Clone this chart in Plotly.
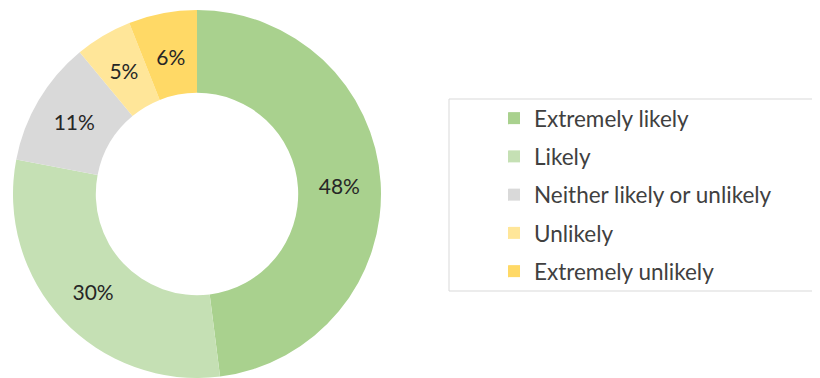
import plotly.graph_objects as go

categories = ["Extremely likely", "Likely", "Neither likely or unlikely", "Unlikely", "Extremely unlikely"]
values = [48, 30, 11, 5, 6]
colors = ["#A9D18E", "#C5E0B4", "#D9D9D9", "#FFE699", "#FFD966"]

# page body has an 8px margin; figure fills the rest of the 820x378 window
W, H = 812, 370
cx, cy, r = 189, 186, 184   # donut centre/radius in figure px
r2 = 166                    # helper ring used only to place labels of the two small slices


def dom(rad):
    return dict(x=[(cx - rad) / W, (cx + rad) / W],
                y=[max(0, 1 - (cy + rad) / H), min(1, 1 - (cy - rad) / H)])


small = [v < 10 for v in values]
label_font = dict(family="Lato", size=21, color="#262626")

fig = go.Figure()
fig.add_trace(go.Pie(
    labels=categories, values=values, sort=False, direction="clockwise", rotation=0,
    hole=0.55, marker=dict(colors=colors, line=dict(width=0)),
    texttemplate="%{value}%", textposition=["none" if s else "inside" for s in small],
    insidetextorientation="horizontal", textfont=label_font,
    showlegend=False, hoverinfo="label+value", domain=dom(r),
))
fig.add_trace(go.Pie(
    labels=categories, values=values, sort=False, direction="clockwise", rotation=0,
    hole=0.4, marker=dict(colors=["rgba(0,0,0,0)"] * len(values), line=dict(width=0)),
    texttemplate="%{value}%", textposition=["inside" if s else "none" for s in small],
    insidetextorientation="horizontal", textfont=label_font,
    showlegend=False, hoverinfo="skip", domain=dom(r2),
))
for i, (cat, col) in enumerate(zip(categories, colors)):
    fig.add_trace(go.Scatter(
        x=[None], y=[None], mode="markers", name=cat,
        marker=dict(symbol="square", size=12, color=col),
        legendgroup=f"g{i}", showlegend=True,
    ))

bx0, by0, by1 = 441, 91, 283
line_style = dict(color="#D9D9D9", width=1)
fig.update_layout(
    width=W, height=H, margin=dict(l=0, r=0, t=0, b=0),
    paper_bgcolor="white", plot_bgcolor="white",
    xaxis=dict(visible=False), yaxis=dict(visible=False),
    legend=dict(x=486 / W, y=1 - 89 / H, xanchor="left", yanchor="top",
                font=dict(family="Lato", size=22.5, color="#404040"),
                tracegroupgap=6, bgcolor="rgba(0,0,0,0)", borderwidth=0, itemclick=False),
    shapes=[
        dict(type="line", xref="paper", yref="paper", x0=bx0 / W, x1=1, y0=1 - by0 / H, y1=1 - by0 / H, line=line_style),
        dict(type="line", xref="paper", yref="paper", x0=bx0 / W, x1=1, y0=1 - by1 / H, y1=1 - by1 / H, line=line_style),
        dict(type="line", xref="paper", yref="paper", x0=bx0 / W, x1=bx0 / W, y0=1 - by1 / H, y1=1 - by0 / H, line=line_style),
    ],
)
fig.write_html("out.html")
